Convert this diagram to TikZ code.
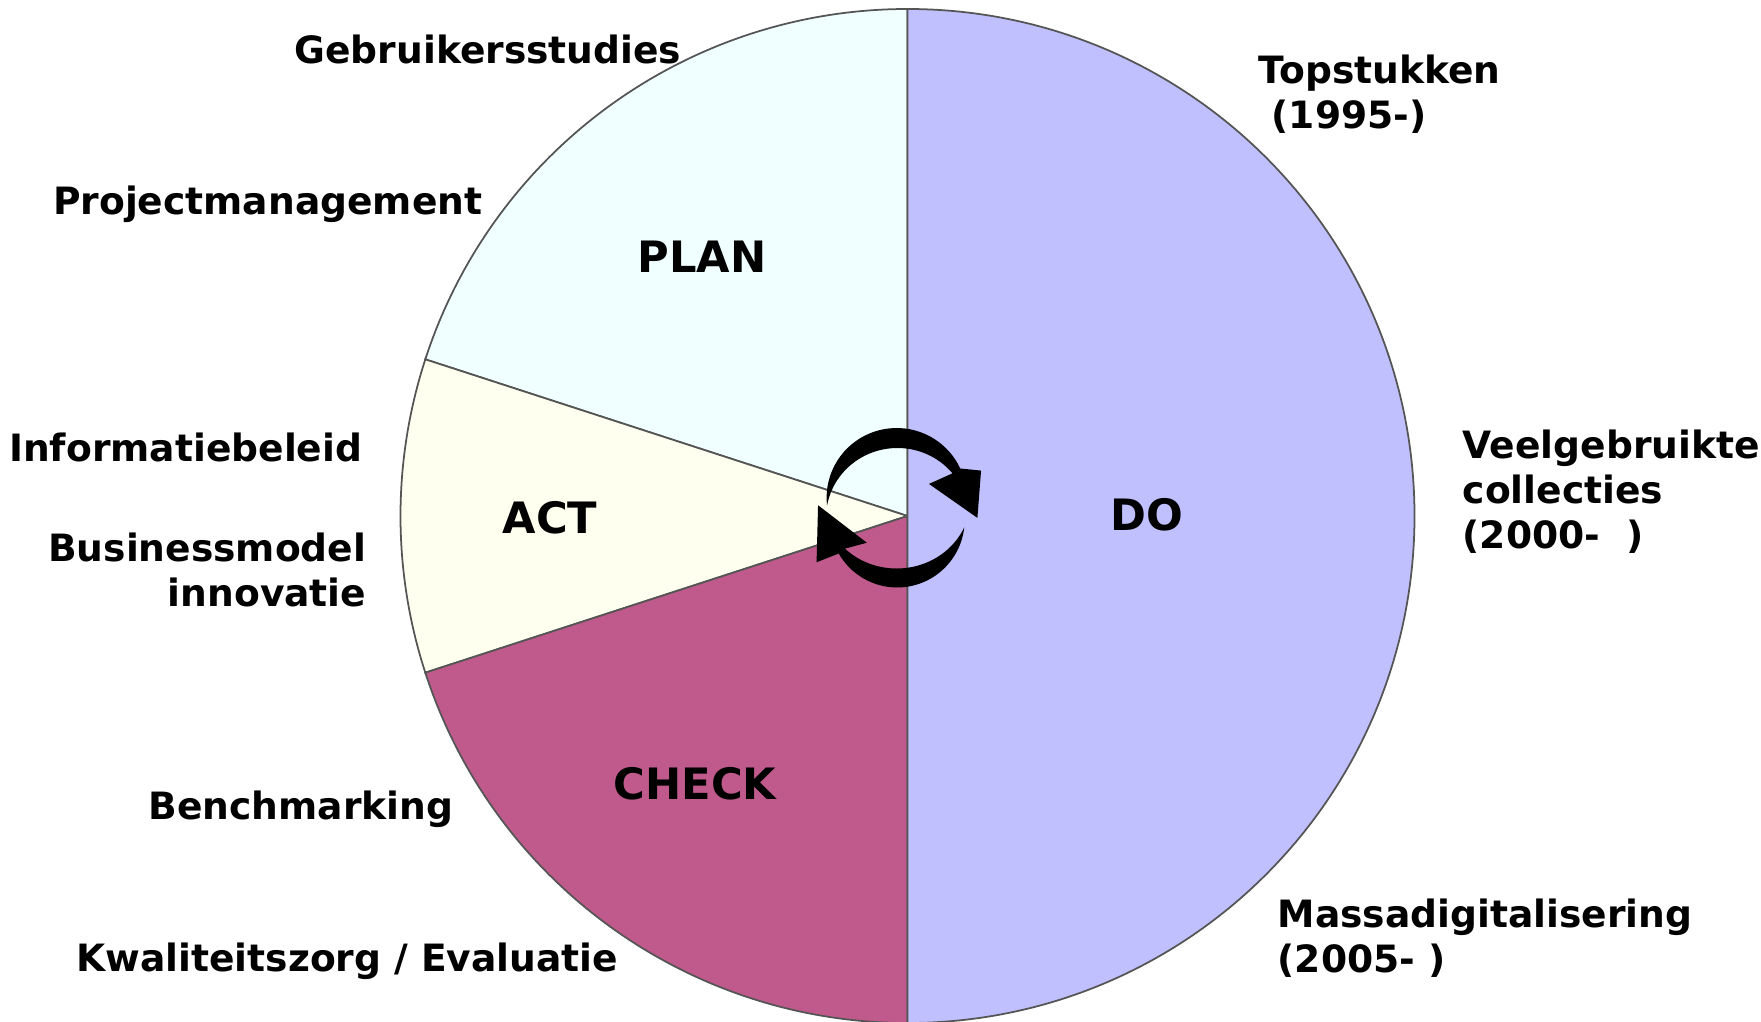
\documentclass[tikz,border=0pt]{standalone}
\usepackage{fontspec}
\setmainfont{DejaVu Sans}
\usetikzlibrary{calc,positioning}
\definecolor{planfill}{HTML}{F0FFFF}
\definecolor{actfill}{HTML}{FFFFF0}
\definecolor{checkfill}{HTML}{C05A8C}
\definecolor{dofill}{HTML}{C0C0FF}
\definecolor{rimgray}{HTML}{555555}
\newcommand{\lblfont}{\fontsize{10.7}{12.8}\selectfont\bfseries}
\newcommand{\phasefont}{\fontsize{12.3}{14}\selectfont\bfseries}

\begin{document}
\begin{tikzpicture}[
  slice/.style={draw=rimgray, line width=0.5pt},
  lbl/.style={font=\lblfont, inner sep=0pt},
  phase/.style={font=\phasefont, inner sep=0pt}]
\useasboundingbox (0,0) rectangle (17.61,10.21);
\coordinate (C) at (9.075,5.05);
\coordinate (R) at (8.97,5.13);

% Pie slices (20/10/20/50)
\filldraw[slice, fill=planfill] (C) -- ++(90:5.07) arc[start angle=90, end angle=162, radius=5.07] -- cycle;
\filldraw[slice, fill=actfill] (C) -- ++(162:5.07) arc[start angle=162, end angle=198, radius=5.07] -- cycle;
\filldraw[slice, fill=checkfill] (C) -- ++(198:5.07) arc[start angle=198, end angle=270, radius=5.07] -- cycle;
\filldraw[slice, fill=dofill] (C) -- ++(-90:5.07) arc[start angle=-90, end angle=90, radius=5.07] -- cycle;

% Phase names
\node[phase] (plan) at (7.02,7.64) {PLAN};
\node[phase] (act) at (5.50,5.03) {ACT};
\node[phase] (check) at (6.95,2.37) {CHECK};
\node[phase] (do) at (11.47,5.06) {DO};

% Cycle arrows (clockwise)
\fill[shift={(R)}] plot[domain=178:32, samples=40] (\x:{0.70+0.10*sin((178-\x)/172*180)})
  -- (24:0.92) -- (-7:0.81) -- (37:0.40)
  -- plot[domain=32:178, samples=40] (\x:{0.70-0.10*sin((178-\x)/172*180)}) -- cycle;
\fill[shift={(R)}] plot[domain=-16:-142, samples=40] (\x:{0.70+0.095*sin((-16-\x)/146*180)})
  -- (214:0.97) -- (178:0.79) -- (229:0.46)
  -- plot[domain=-142:-16, samples=40] (\x:{0.70-0.095*sin((-16-\x)/146*180)}) -- cycle;

% Left labels
\node[lbl, anchor=east] (gebr) at (6.82,9.72) {Gebruikersstudies};
\node[lbl, anchor=east] (proj) at (4.83,8.17) {Projectmanagement};
\node[lbl, anchor=east] (info) at (3.63,5.74) {Informatiebeleid};
\node[lbl, anchor=east, align=right] (busi) at (3.67,4.51) {Businessmodel\\innovatie};
\node[lbl, anchor=east] (bench) at (4.54,2.12) {Benchmarking};
\node[lbl, anchor=east] (kwal) at (6.19,0.60) {Kwaliteitszorg / Evaluatie};

% Right labels
\node[lbl, anchor=west, align=left] (top) at (12.58,9.27) {Topstukken\\~(1995-)};
\node[lbl, anchor=west, align=left] (veel) at (14.62,5.29) {Veelgebruikte\\collecties\\(2000-~~)};
\node[lbl, anchor=west, align=left] (massa) at (12.77,0.83) {Massadigitalisering\\(2005-~)};
\end{tikzpicture}
\end{document}
